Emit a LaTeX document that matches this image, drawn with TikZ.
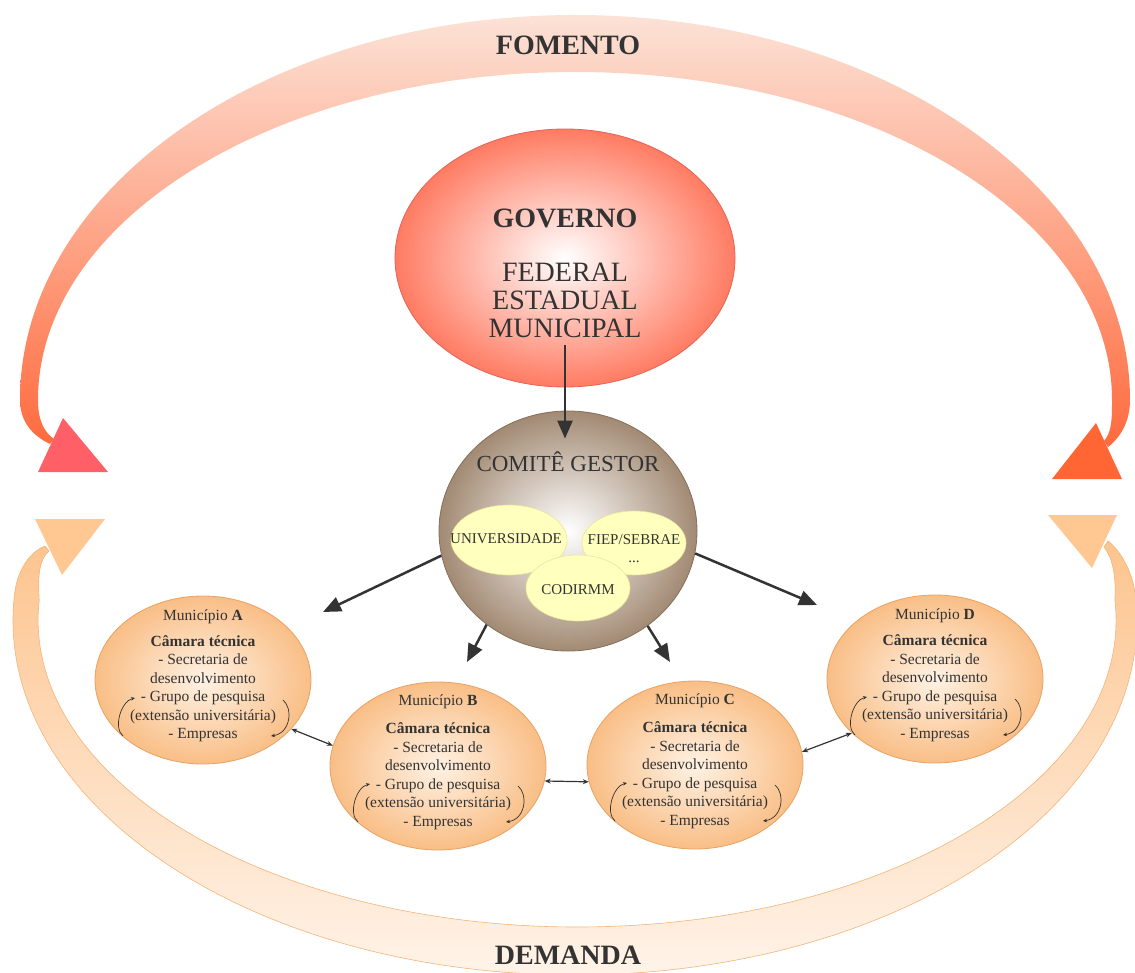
\documentclass[tikz,border=0pt]{standalone}
\usepackage{fontspec}
\setmainfont{Liberation Serif}
\usetikzlibrary{calc,arrows.meta,shapes.geometric}
\definecolor{fomtop}{HTML}{FCE2D6}
\definecolor{fombot}{HTML}{FF6A3D}
\definecolor{fomleft}{HTML}{FF6068}
\definecolor{fomright}{HTML}{FF6633}
\definecolor{demtop}{HTML}{FDC48E}
\definecolor{dembot}{HTML}{FFF4EA}
\definecolor{demline}{HTML}{F4B47A}
\definecolor{demhead}{HTML}{FFC792}
\definecolor{govedge}{HTML}{FF7B62}
\definecolor{govline}{HTML}{E4635A}
\definecolor{comedge}{HTML}{A28A73}
\definecolor{comline}{HTML}{85705C}
\definecolor{univfill}{HTML}{FFFFBE}
\definecolor{univline}{HTML}{EDE49A}
\definecolor{munedge}{HTML}{F9BE86}
\definecolor{muncenter}{HTML}{FFF2E4}
\definecolor{munline}{HTML}{E9A263}
\definecolor{inkgray}{HTML}{333333}

\tikzset{
  bigarrow/.style={draw=inkgray, line width=2.5pt, -{Triangle[length=18pt,width=15pt]}},
  linkarrow/.style={draw=inkgray, line width=1.2pt, {Stealth[length=6pt,width=5pt]}-{Stealth[length=6pt,width=5pt]}},
  looparrow/.style={draw=inkgray, line width=0.7pt, -{Stealth[length=4pt,width=3.5pt]}},
  munbox/.style={ellipse, draw=munline, line width=0.8pt, inner color=muncenter, outer color=munedge,
    minimum width=216pt, minimum height=168pt},
  muntext/.style={align=center, text=inkgray, font=\fontsize{15.5}{18.5}\selectfont},
  yelbox/.style={ellipse, draw=univline, line width=0.6pt, fill=univfill},
  yeltext/.style={align=center, text=inkgray, font=\fontsize{15}{18}\selectfont},
  bigtitle/.style={text=inkgray, font=\bfseries\fontsize{28}{28}\selectfont}
}

\begin{document}
\begin{tikzpicture}[x=1pt, y=-1pt]
  \useasboundingbox (0,0) rectangle (1135,973);

  % fomento band
  \shade[top color=fomtop, bottom color=fombot]
    (50,444) .. controls (33,436) and (20,422) .. (20,400)
    arc[start angle=180, end angle=360, x radius=555, y radius=385]
    .. controls (1130,422) and (1120,438) .. (1108,447)
    -- (1104,441)
    .. controls (1112,432) and (1112,418) .. (1112,400)
    arc[start angle=0, end angle=-180, x radius=537, y radius=328]
    .. controls (38,420) and (44,432) .. (54,439) -- cycle;
  \fill[fomleft] (38,472) -- (108,472) -- (63,418) -- cycle;
  \fill[fomright] (1052,479) -- (1122,479) -- (1096,423) -- cycle;

  % demanda band
  \shade[top color=demtop, bottom color=dembot, draw=demline, line width=0.6pt]
    (45,546) .. controls (30,552) and (16,570) .. (13.9,600)
    arc[start angle=183.23, end angle=-3.23, x radius=562, y radius=355]
    .. controls (1134,575) and (1122,552) .. (1108,541)
    -- (1104,547)
    .. controls (1114,560) and (1116,580) .. (1114.9,600)
    arc[start angle=-3.74, end angle=183.74, x radius=539, y radius=307]
    .. controls (38,580) and (38,560) .. (49,551) -- cycle;
  \fill[demhead] (35,519) -- (105,519) -- (62,575) -- cycle;
  \fill[demhead] (1048,515) -- (1117,515) -- (1092,568) -- cycle;

  \node[bigtitle] (fomento) at (568,45) {FOMENTO};
  \node[bigtitle] (demanda) at (568,955) {DEMANDA};

  % governo
  \node[ellipse, minimum width=340pt, minimum height=258pt, draw=govline, line width=0.8pt,
    inner color=white, outer color=govedge] (gov) at (565,258) {};
  \node[align=center, text=inkgray, font=\fontsize{28}{28}\selectfont] (govtext)
    at ($(gov.center)+(0,15)$) {\textbf{GOVERNO}\\[26pt]FEDERAL\\ESTADUAL\\MUNICIPAL};

  % comite gestor
  \node[ellipse, minimum width=258pt, minimum height=240pt, draw=comline, line width=0.8pt,
    inner color=white, outer color=comedge] (com) at (568,531) {};
  \node[text=inkgray, font=\fontsize{23}{23}\selectfont] (comtext)
    at ($(com.center)+(0,-69)$) {COMITÊ GESTOR};
  \node[yelbox, minimum width=116pt, minimum height=70pt] (univ) at ($(com.center)+(-59,9)$) {};
  \node[yelbox, minimum width=104pt, minimum height=64pt] (fiep) at ($(com.center)+(66,12)$) {};
  \node[yelbox, minimum width=104pt, minimum height=66pt] (codirmm) at ($(com.center)+(10,57)$) {};
  \node[yeltext] (univtext) at ($(univ.center)+(-3,-1)$) {UNIVERSIDADE};
  \node[yeltext] (fieptext) at ($(fiep.center)+(0,6)$) {FIEP/SEBRAE\\...};
  \node[yeltext] (codirmmtext) at ($(codirmm.center)+(0,2)$) {CODIRMM};

  % municipios
  \foreach \ltr/\px/\py/\gap in {A/203/680/7, B/438/766/10, C/695/765/10, D/935/679/8}{
    \node[munbox] (m\ltr) at (\px,\py) {};
    \node[muntext] (t\ltr) at ($(m\ltr.center)+(0,-4)$)
      {Município \textbf{\ltr}\\[\gap pt]\textbf{Câmara técnica}\\- Secretaria de\\desenvolvimento\\
       - Grupo de pesquisa\\(extensão universitária)\\- Empresas};
    \draw[looparrow] ($(t\ltr)+(-80,60)$) .. controls +(-10,-8) and +(-14,3) .. ($(t\ltr)+(-68,22)$);
    \draw[looparrow] ($(t\ltr)+(80,24)$) .. controls +(10,8) and +(20,-3) .. ($(t\ltr)+(68,60)$);
  }

  % connectors
  \coordinate (govfoot) at ($(gov.center)+(0,87)$);
  \coordinate (comtop) at ($(gov.center |- com.north)+(0,28)$);
  \coordinate (tipA) at (323,612);
  \coordinate (tipB) at (467,662);
  \coordinate (tipC) at (670,662);
  \coordinate (tipD) at (817,605);
  \draw[bigarrow] (govfoot) -- (comtop);
  \draw[bigarrow] (com.191) -- (tipA);
  \draw[bigarrow] (com.229) -- (tipB);
  \draw[bigarrow] (com.310) -- (tipC);
  \draw[bigarrow] (com.350) -- (tipD);
  \draw[linkarrow] (mA.331) -- (mB.169);
  \draw[linkarrow] (mB.352) -- (mC.189);
  \draw[linkarrow] (mC.7) -- (mD.213);
\end{tikzpicture}
\end{document}
